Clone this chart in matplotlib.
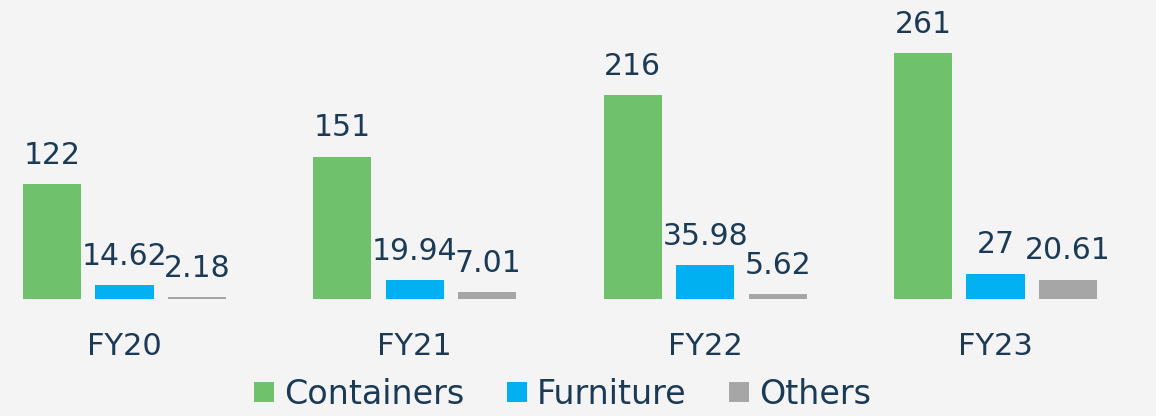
import matplotlib.pyplot as plt
from matplotlib.patches import Patch

# revenue split by segment
years = ['FY20', 'FY21', 'FY22', 'FY23']
containers = [122, 151, 216, 261]
furniture = [14.62, 19.94, 35.98, 27]
others = [2.18, 7.01, 5.62, 20.61]
labels = ['Containers', 'Furniture', 'Others']
colors = ['#70c16b', '#00b0f0', '#a6a6a6']

txt = '#1b3a56'
bg = '#f4f4f4'
plt.rcParams['font.family'] = ['DejaVu Sans']

fig = plt.figure(figsize=(11.56, 4.16), dpi=100, facecolor=bg)
ax = fig.add_axes([0, 117 / 416, 1, 299 / 416])
ax.set_facecolor(bg)

w = 0.2
step = 0.25
x = list(range(len(years)))
for k, series in enumerate([containers, furniture, others]):
    xs = [i + (k - 1) * step for i in x]
    ax.bar(xs, series, width=w, color=colors[k], edgecolor='none')
    for xi, v in zip(xs, series):
        ax.annotate(f'{v:g}', xy=(xi, v), xytext=(0, 14.5), textcoords='offset points',
                    ha='center', va='baseline', fontsize=21.5, color=txt)

for i, yr in zip(x, years):
    ax.annotate(yr, xy=(i, 0), xycoords=ax.get_xaxis_transform(), xytext=(0, -40.5),
                textcoords='offset points', ha='center', va='baseline', fontsize=22,
                color=txt, annotation_clip=False)

ax.set_xlim(-0.4288, 3.5528)
ax.set_ylim(0, 317)
ax.axis('off')

handles = [Patch(facecolor=c, edgecolor='none') for c in colors]
fig.legend(handles, labels, loc='center', bbox_to_anchor=(0.4866, 0.052), ncol=3,
           frameon=False, fontsize=24, labelcolor=txt, handlelength=0.6,
           handleheight=0.58, handletextpad=0.3, columnspacing=1.28)

fig.savefig('out.png', dpi=100, facecolor=bg)
